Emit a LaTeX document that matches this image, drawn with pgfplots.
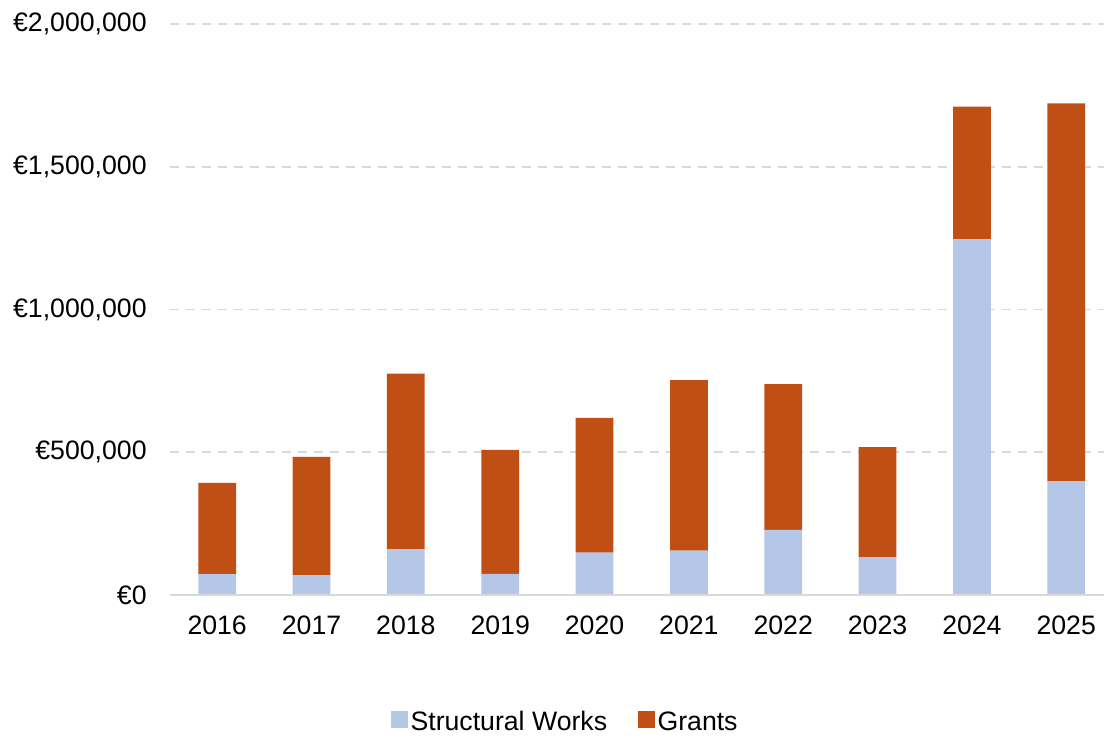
\documentclass[border=0pt]{standalone}
\usepackage{fontspec}
\setmainfont{Liberation Sans}
\usepackage{pgfplots}
\pgfplotsset{compat=1.18}
\usetikzlibrary{calc}
\definecolor{swBlue}{RGB}{180,199,231}
\definecolor{grOrange}{RGB}{192,79,21}
\definecolor{gridGray}{RGB}{217,217,217}

\begin{document}
\begin{tikzpicture}
\begin{axis}[
    name=ax,
    scale only axis,
    width=700.5pt, height=428.25pt,
    ybar stacked,
    bar width=0.4,
    xmin=-0.5, xmax=9.4,
    ymin=0, ymax=2000000,
    xtick={0,...,9},
    xticklabels={2016,2017,2018,2019,2020,2021,2022,2023,2024,2025},
    ytick={0,500000,1000000,1500000,2000000},
    yticklabels={{€0},{€500,000},{€1,000,000},{€1,500,000},{€2,000,000}},
    scaled y ticks=false,
    major tick length=0pt,
    axis line style={draw=none},
    axis x line*=bottom,
    ymajorgrids,
    major grid style={draw=gridGray, line width=1.4pt, dash pattern=on 7pt off 5pt},
    tick label style={font=\fontsize{20}{24}\selectfont, black},
    yticklabel style={xshift=-14pt},
    xticklabel style={yshift=-12pt},
    legend style={at={(0.4235,-0.222)}, anchor=center, draw=none,
        font=\fontsize{20}{24}\selectfont, legend columns=2,
        /tikz/every even column/.append style={column sep=21pt}},
    legend image code/.code={\fill[#1] (0.05cm,-0.17cm) rectangle (0.5cm,0.28cm);},
]
\addplot[fill=swBlue, draw=none] coordinates {
    (0,73000)(1,70000)(2,161000)(3,74000)(4,148000)
    (5,155000)(6,228000)(7,133000)(8,1246000)(9,399000)};
\addlegendentry{Structural Works}
\addplot[fill=grOrange, draw=none] coordinates {
    (0,320000)(1,414000)(2,614000)(3,434000)(4,472000)
    (5,598000)(6,511000)(7,385000)(8,465000)(9,1323000)};
\addlegendentry{Grants}
\end{axis}
\draw[gridGray, line width=1.4pt] (ax.south west) -- (ax.south east);
\path ($(ax.south west)+(-127.5pt,-102pt)$) rectangle ($(ax.south west)+(702.75pt,446.25pt)$);
\end{tikzpicture}
\end{document}
